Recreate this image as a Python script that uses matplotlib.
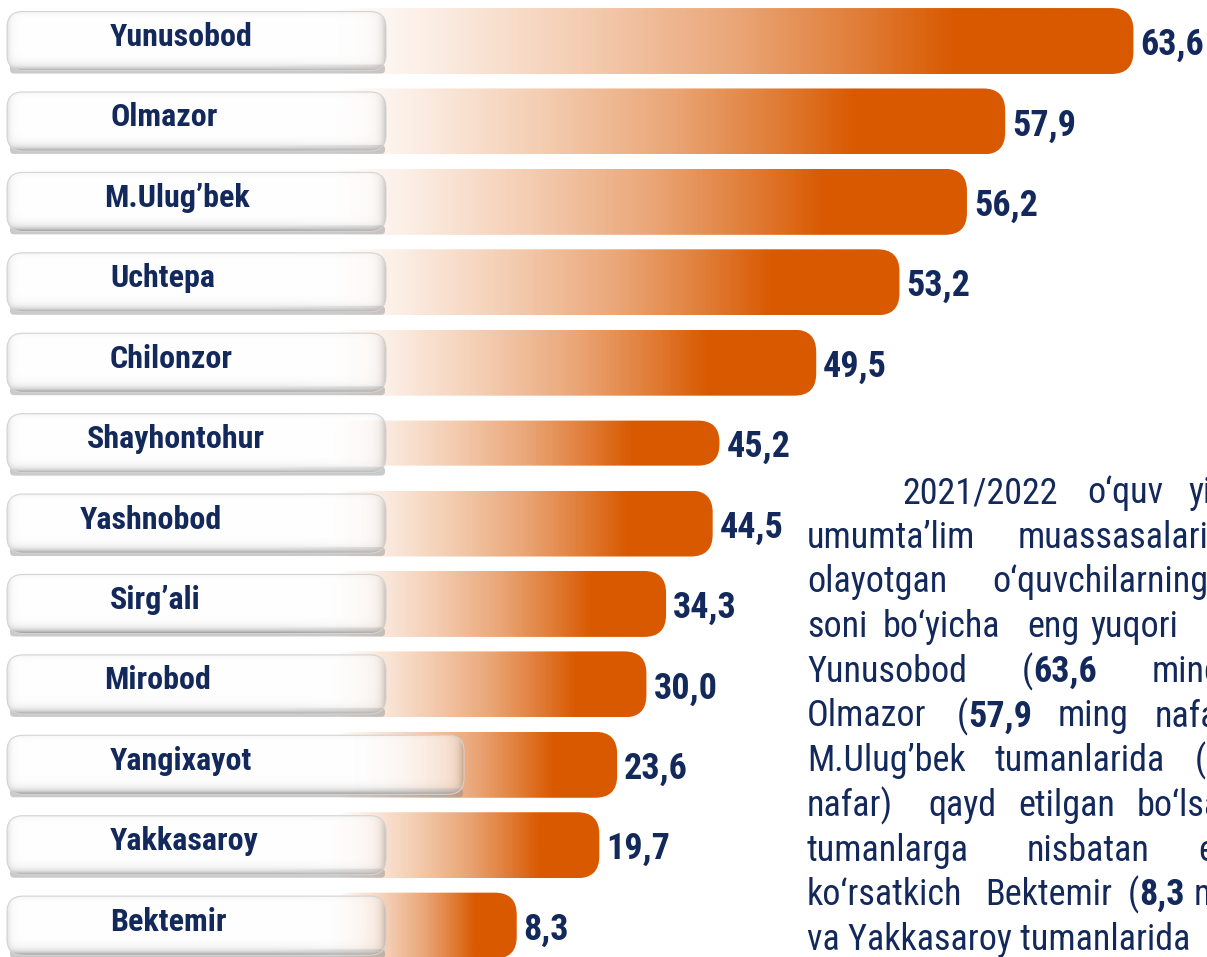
import numpy as np
import matplotlib
matplotlib.use("Agg")
import matplotlib.pyplot as plt
from matplotlib.patches import FancyBboxPatch
from matplotlib.colors import LinearSegmentedColormap

# pupils in general schools, thousand persons, 2021/2022
districts = ["Yunusobod", "Olmazor", "M.Ulug’bek", "Uchtepa", "Chilonzor", "Shayhontohur",
             "Yashnobod", "Sirg’ali", "Mirobod", "Yangixayot", "Yakkasaroy", "Bektemir"]
pupils = [63.6, 57.9, 56.2, 53.2, 49.5, 45.2, 44.5, 34.3, 30.0, 23.6, 19.7, 8.3]

# text column on the right (cut at the page edge in the source); **..** = bold
para_lines = [
    [(902, "2021/2022"), (1087, "o‘quv"), (1188, "yilida")],
    [(807, "umumta’lim"), (1018, "muassasalarida")],
    [(807, "olayotgan"), (992, "o‘quvchilarning")],
    [(807, "soni"), (883, "bo‘yicha"), (1027, "eng"), (1090, "yuqori"), (1215, "ko‘rsatkich")],
    [(807, "Yunusobod"), (1022, "(**63,6**"), (1152, "ming")],
    [(807, "Olmazor"), (957, "(**57,9**"), (1058, "ming"), (1155, "nafar),")],
    [(807, "M.Ulug’bek"), (995, "tumanlarida"), (1195, "(**56,2**")],
    [(807, "nafar)"), (928, "qayd"), (1018, "etilgan"), (1137, "bo‘lsa,")],
    [(807, "tumanlarga"), (1027, "nisbatan"), (1198, "eng")],
    [(807, "ko‘rsatkich"), (985, "Bektemir"), (1128, "(**8,3**"), (1194, "ming")],
    [(807, "va Yakkasaroy tumanlarida"), (1215, "(**19,7**")],
]

FONT = ["Roboto Condensed", "Liberation Sans Narrow", "Roboto", "DejaVu Sans"]
NAVY = "#13285b"
W, H = 1207, 957
BAR_X0 = 330  # bars start behind the name boxes

# the source graphic is not drawn to a linear scale: the 10..45 range is squeezed
STRETCH_V = [0, 10, 45, 70]
STRETCH_U = [0, 225, 385, 947.5]


def stretch(v):
    return np.interp(np.asarray(v, dtype=float), STRETCH_V, STRETCH_U)


def unstretch(u):
    return np.interp(np.asarray(u, dtype=float), STRETCH_U, STRETCH_V)


fig = plt.figure(figsize=(W / 100, H / 100), dpi=100)
ov = fig.add_axes([0, 0, 1, 1])
ax = fig.add_axes([BAR_X0 / W, 0, 1 - BAR_X0 / W, 1])
ax.set_xscale("function", functions=(stretch, unstretch))
ax.set_xlim(0, 66.87)
ax.set_ylim(11.39, -0.51)
ax.axis("off")
ax.patch.set_visible(False)
ov.set_xlim(0, W)
ov.set_ylim(H, 0)
ov.axis("off")


def to_px(x, y):
    return ov.transData.inverted().transform(ax.transData.transform((x, y)))


bar_cmap = LinearSegmentedColormap.from_list(
    "bar", [(0, "#ffffff"), (0.15, "#fcefe6"), (0.4, "#f4cdb2"), (0.65, "#eaa677"),
            (0.85, "#e07c36"), (1, "#d95900")])


def bevel(w, h):
    X = np.arange(w)[None, :] + 0.5
    Y = np.arange(h)[:, None] + 0.5
    s = (1 - 0.45 * np.exp(-(w - X) / 4.0) - 0.42 * np.exp(-(h - Y) / 3.5)
         - 0.14 * np.exp(-X / 3.0) - 0.05 * np.exp(-Y / 2.5))
    img = np.ones((h, w, 4))
    img[..., :3] = np.clip(s, 0, 1)[..., None]
    img[..., 3] = 1 - 0.5 * np.clip((X - (w - 110)) / 110, 0, 1) + 0 * Y
    return img


bar_h = [0.82] * len(districts)
bar_h[5] = 0.56
box_left = [7] * len(districts)
box_right = [386] * len(districts)
box_right[9] = 464
label_left = [110, 110, 104, 110, 110, 87, 80, 110, 104, 110, 110, 110]

for i, (name, v) in enumerate(zip(districts, pupils)):
    x0, yc = to_px(0, i)
    x1, _ = to_px(v, i)
    _, ytop = to_px(0, i - bar_h[i] / 2)
    h = 2 * (yc - ytop)
    clip = FancyBboxPatch((x0, yc - h / 2), x1 - x0, h,
                          boxstyle="round,pad=0,rounding_size=%.1f" % min(22, h / 2 - 1),
                          fc="none", ec="none")
    ov.add_patch(clip)
    t = np.clip(np.linspace(0, 1, 400) / 0.78, 0, 1)
    im = ov.imshow(t[None, :], extent=(x0, x1, yc + h / 2, yc - h / 2), cmap=bar_cmap,
                   vmin=0, vmax=1, aspect="auto", interpolation="bilinear", zorder=1)
    im.set_clip_path(clip)

    # value label
    ov.text(x1 + 7, yc + 4, f"{v:.1f}".replace(".", ","), fontsize=26, fontweight="bold",
            color=NAVY, family=FONT, ha="left", va="center", zorder=5)

    # name box with a soft shadow along its lower edge
    bl, br, bh = box_left[i], box_right[i], 59
    ov.add_patch(FancyBboxPatch((bl + 3, yc + bh / 2 - 6), br - bl - 4, 9,
                                boxstyle="round,pad=0,rounding_size=4",
                                fc="#8a8a8a", ec="none", alpha=0.45, zorder=2))
    box = FancyBboxPatch((bl, yc - bh / 2), br - bl, bh, boxstyle="round,pad=0,rounding_size=16",
                         fc="none", ec="#d4d4d4", lw=0.8, zorder=3.5)
    ov.add_patch(box)
    bim = ov.imshow(bevel(int(br - bl), bh), extent=(bl, br, yc + bh / 2, yc - bh / 2),
                    aspect="auto", interpolation="bilinear", zorder=3)
    bim.set_clip_path(box)
    ov.text(label_left[i], yc - 4, name, fontsize=23, fontweight="bold", color=NAVY,
            family=FONT, ha="left", va="center", zorder=4)

renderer = fig.canvas.get_renderer()
for k, line in enumerate(para_lines):
    y = 493 + 44.7 * k
    for x, word in line:
        for j, part in enumerate(word.split("**")):
            if not part:
                continue
            txt = ov.text(x, y, part, fontsize=26, fontweight="bold" if j % 2 else "normal",
                          color=NAVY, family=FONT, ha="left", va="center", zorder=4)
            bb = txt.get_window_extent(renderer=renderer)
            x = ov.transData.inverted().transform((bb.x1, bb.y0))[0]

ov.set_xlim(0, W)
ov.set_ylim(H, 0)
fig.savefig("out.png", dpi=100, facecolor="white")
